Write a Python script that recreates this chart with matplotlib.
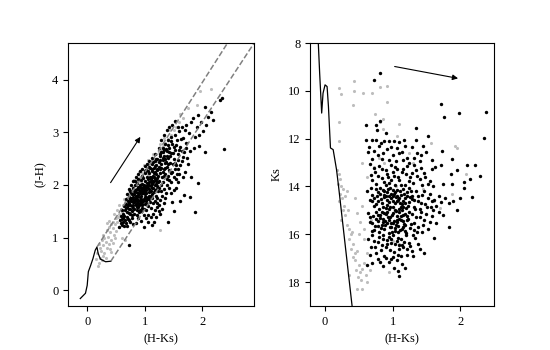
import numpy as np
import matplotlib
matplotlib.use('Agg')
import matplotlib.pyplot as plt

plt.rcParams['font.family'] = ['Liberation Serif', 'DejaVu Serif']

# ---- colour-colour diagram: (H-Ks), (J-H) ----
cc_black = [
    # dense core
    (0.66,1.52),(0.68,1.63),(0.70,1.58),(0.71,1.70),(0.72,1.47),(0.73,1.78),(0.74,1.62),(0.75,1.55),(0.76,1.69),(0.77,1.82),
    (0.78,1.50),(0.79,1.74),(0.80,1.61),(0.81,1.88),(0.82,1.55),(0.83,1.70),(0.84,1.79),(0.85,1.64),(0.86,1.93),(0.87,1.52),
    (0.88,1.84),(0.89,1.72),(0.90,1.61),(0.91,1.97),(0.92,1.78),(0.93,1.88),(0.94,1.66),(0.95,2.02),(0.96,1.56),(0.97,1.84),
    (0.98,1.93),(0.99,1.73),(1.00,2.08),(1.01,1.63),(1.02,1.98),(1.03,1.85),(1.04,2.15),(1.05,1.76),(1.06,2.04),(1.07,1.92),
    (1.08,2.22),(1.09,1.68),(1.10,2.11),(1.11,1.98),(1.12,2.27),(1.13,1.83),(1.14,2.18),(1.15,2.05),(1.16,2.33),(1.17,1.91),
    (1.18,2.24),(1.19,2.12),(1.20,2.38),(1.21,1.99),(1.22,2.30),(1.23,2.17),(1.24,2.44),(1.25,2.08),
    (0.67,1.74),(0.70,1.82),(0.73,1.55),(0.75,1.88),(0.77,1.60),(0.79,1.95),(0.81,1.67),(0.83,2.00),(0.85,1.76),(0.87,2.04),
    (0.89,1.58),(0.91,1.84),(0.93,2.10),(0.95,1.70),(0.97,2.14),(0.99,1.88),(1.01,2.22),(1.03,1.70),(1.05,2.26),(1.07,2.00),
    (1.09,2.32),(1.11,1.80),(1.13,2.40),(1.15,1.95),(1.17,2.46),(1.19,2.02),(1.21,2.50),(1.23,1.88),(1.25,2.34),
    (0.62,1.45),(0.64,1.60),(0.69,1.40),(0.74,1.44),(0.78,1.38),(0.82,1.45),(0.86,1.42),(0.90,1.48),(0.94,1.50),(0.98,1.55),
    (1.02,1.52),(1.06,1.60),(1.10,1.56),(1.14,1.66),(1.18,1.70),(1.22,1.75),(0.60,1.36),(0.63,1.30),(0.58,1.27),(0.66,1.33),
    (0.72,1.92),(0.76,2.00),(0.80,2.08),(0.84,2.15),(0.88,2.20),(0.92,2.26),(0.96,2.30),(1.00,2.36),(1.04,2.40),(1.08,2.46),
    (0.82,1.82),(0.86,1.70),(0.90,1.90),(0.94,1.80),(0.98,2.00),(1.02,1.90),(1.06,2.12),(1.10,1.88),(1.14,2.08),(1.18,2.00),
    (0.84,1.62),(0.88,1.96),(0.92,1.70),(0.96,1.92),(1.00,1.82),(1.04,2.04),(1.08,1.80),(1.12,2.16),(1.16,1.86),(1.20,2.20),
    (0.76,1.75),(0.80,1.78),(0.96,1.64),(1.00,1.95),(1.04,1.64),(1.08,2.06),(0.88,1.66),(0.92,2.00),(1.12,1.94),(1.16,2.22),
    (0.71,1.61),(0.74,1.73),(0.79,1.57),(0.83,1.91),(0.87,1.77),(0.91,1.53),(0.93,1.95),(0.97,1.69),(1.01,1.86),(1.03,2.29),
    (1.07,1.73),(1.11,2.07),(1.13,2.31),(1.17,2.12),(1.21,2.28),(1.23,2.05),(1.27,2.47),(1.29,2.33),(1.31,2.62),(1.35,2.41),
    (0.69,1.49),(0.72,1.66),(0.76,1.84),(0.81,1.72),(0.85,1.86),(0.89,1.81),(0.93,1.74),(0.97,1.97),(1.02,1.77),(1.06,1.95),
    (1.09,2.16),(1.13,2.02),(1.18,2.36),(1.22,2.14),(1.26,2.31),(1.32,2.52),(1.37,2.69),(1.41,2.77),(1.46,2.83),(1.51,2.72),
    (0.64,1.41),(0.68,1.56),(0.77,1.43),(0.86,1.59),(0.95,1.61),(1.04,1.73),(1.13,1.76),(1.22,1.92),(1.31,2.05),(1.40,2.18),
    (0.83,2.07),(0.89,2.11),(0.95,2.18),(1.01,2.27),(1.07,2.35),(1.14,2.43),(1.19,2.49),(1.27,2.58),(1.34,2.66),(1.42,2.62),
    (1.54,2.77),(1.59,2.66),(1.63,2.88),(1.67,2.53),(1.71,2.70),(1.57,2.48),(1.49,2.40),(1.44,2.55),(1.36,2.33),(1.53,2.30),
    (0.59,1.41),(0.61,1.53),(0.73,1.33),(0.88,1.37),(1.05,1.43),(1.24,1.51),(1.33,1.66),(1.43,1.95),(1.58,2.05),(1.66,2.15),
    (1.00,1.78),(0.96,1.85),(1.04,1.98),(0.92,1.63),(1.08,1.87),(1.12,2.03),(0.84,1.74),(0.80,1.67),(1.16,2.15),(1.20,2.08),
    (1.22,1.58),(1.26,1.72),(1.30,1.80),(1.34,1.92),(1.38,2.12),(1.42,2.28),(1.46,2.05),(1.50,1.90),(1.54,2.12),(1.58,2.30),
    (1.29,2.00),(1.33,2.18),(1.37,1.85),(1.41,2.40),(1.45,2.22),(1.49,2.60),(1.52,2.42),(1.56,2.20),(1.61,2.38),(1.65,2.65),
    (0.56,1.20),(0.60,1.24),(0.64,1.22),(0.68,1.28),(0.71,1.35),(0.75,1.30),(0.79,1.25),(0.62,1.38),(0.57,1.33),(0.70,1.22),
    (1.17,1.52),(1.21,1.65),(1.27,1.45),(1.11,1.40),(0.99,1.42),(1.19,1.80),(1.25,1.95),(1.31,2.25),(1.35,2.50),(1.39,2.55),
    # upper part of the cloud
    (1.26,2.56),(1.27,2.22),(1.28,2.40),(1.29,2.62),(1.30,2.15),(1.31,2.48),(1.32,2.70),(1.33,2.30),(1.34,2.56),(1.35,2.78),
    (1.36,2.20),(1.37,2.44),(1.38,2.64),(1.39,2.35),(1.40,2.85),(1.41,2.52),(1.42,2.10),(1.43,2.70),(1.44,2.42),(1.45,2.92),
    (1.46,2.60),(1.47,2.25),(1.48,2.78),(1.50,2.50),(1.52,2.95),(1.53,2.66),(1.55,2.38),(1.56,2.85),(1.58,2.58),(1.60,3.02),
    (1.62,2.72),(1.64,2.45),(1.66,2.90),(1.68,2.62),(1.70,3.05),(1.72,2.80),(1.74,2.52),
    (1.28,2.85),(1.33,2.95),(1.38,3.05),(1.43,3.10),(1.48,3.15),(1.53,3.22),(1.58,3.10),(1.25,2.70),(1.18,2.58),(1.12,2.52),
    # below the band
    (0.72,0.85),(0.98,1.20),(1.12,1.23),(1.06,1.29),(1.40,1.30),(1.51,1.51),(1.68,1.81),(1.79,1.77),(1.81,2.16),(1.92,2.04),
    (1.88,1.48),(1.20,1.40),(1.30,1.55),(1.35,1.75),(1.45,1.85),(1.55,1.95),(1.60,2.20),(1.25,1.62),(1.15,1.45),(1.50,2.15),
    (1.70,2.25),(1.75,2.40),(0.93,1.32),(1.02,1.38),(1.28,1.88),(1.38,2.00),(1.48,1.68),(1.62,1.70),(1.16,1.30),(0.85,1.28),
    # red tail
    (2.37,2.68),(2.04,2.62),(2.35,3.66),(2.30,3.62),(2.15,3.38),(2.19,3.24),(2.04,3.49),(1.92,3.33),(2.10,3.30),(2.02,3.03),
    (1.95,2.96),(1.77,2.99),(1.88,2.91),(2.06,3.15),(1.80,3.20),(1.85,2.70),(1.90,3.10),(1.78,2.65),(1.84,3.28),(1.98,3.20),
    (1.72,3.15),(1.65,3.10),(1.95,2.75),
]
cc_gray = [
    (0.18,0.45),(0.20,0.52),(0.22,0.62),(0.17,0.70),(0.24,0.75),(0.26,0.58),(0.28,0.85),(0.30,0.70),(0.32,0.92),(0.25,0.95),
    (0.34,0.80),(0.36,1.02),(0.38,0.88),(0.40,1.10),(0.42,0.96),(0.44,1.18),(0.46,1.04),(0.48,1.25),(0.50,1.12),(0.35,1.15),
    (0.30,1.00),(0.28,0.65),(0.40,0.78),(0.45,0.90),(0.52,1.30),(0.55,1.20),(0.22,0.80),(0.33,0.62),(0.20,0.88),(0.38,1.20),
    (0.42,0.72),(0.27,1.05),(0.48,1.00),(0.15,0.60),(0.60,1.00),(0.66,0.95),
    (0.50,1.38),(0.55,1.45),(0.58,1.55),(0.62,1.62),(0.66,1.68),(0.70,1.75),(0.73,1.85),(0.76,1.90),(0.80,1.96),(0.84,2.02),
    (0.88,2.08),(0.92,2.15),(0.96,2.22),(1.00,2.28),(1.04,2.32),(1.08,2.40),(1.12,2.45),(1.16,2.50),(1.20,2.58),(1.24,2.62),
    (1.28,2.66),(1.32,2.75),(1.36,2.80),(1.40,2.88),(1.45,2.95),(1.50,3.05),(1.55,3.10),(1.60,3.20),(1.66,3.28),(1.75,3.46),
    (1.90,3.53),(1.96,3.78),(2.15,3.83),(0.60,1.48),(0.68,1.60),(0.78,1.76),(1.05,2.20),(1.22,2.45),
    (1.00,1.70),(1.20,1.92),(1.27,1.14),(0.94,2.05),
    (0.45,1.30),(0.52,1.52),(0.56,1.62),(0.64,1.74),(0.72,1.90),(0.82,2.10),(0.90,2.25),(0.98,2.38),(1.06,2.48),(1.14,2.58),
    (1.26,2.78),(1.34,2.90),(1.44,3.05),(1.52,3.20),(1.62,3.35),(0.42,1.25),(0.38,1.32),(0.54,1.40),(0.47,1.45),(0.35,1.28),
]
# intrinsic colours (dwarfs + giants)
intr_hk = [-0.12, -0.03, 0.00, 0.02, 0.06, 0.10, 0.14, 0.17, 0.19, 0.23, 0.32, 0.41]
intr_jh = [-0.16, -0.06, 0.09, 0.35, 0.47, 0.60, 0.76, 0.82, 0.70, 0.59, 0.54, 0.55]
# reddening band edges
band_hk = [[0.17, 2.45], [0.41, 2.90]]
band_jh = [[0.82, 4.72], [0.55, 4.70]]
# reddening vector
cc_arrow = [(0.38, 2.00), (0.95, 2.96)]

# ---- colour-magnitude diagram: (H-Ks), Ks ----
cm_black = [
    (0.82,9.27),(0.73,9.54),(1.72,10.53),(1.99,10.93),(1.76,11.08),(2.39,10.89),(0.60,11.43),(0.76,11.42),(0.81,11.25),
    (0.77,11.65),(0.90,11.76),(1.34,11.54),(2.35,11.97),
    (0.61,12.04),(0.69,12.06),(0.75,12.06),(0.87,12.10),(0.94,12.08),(1.02,12.12),(1.10,12.15),(1.17,12.06),(1.34,12.06),(1.53,11.90),
    (0.65,12.35),(0.72,12.50),(0.80,12.30),(0.86,12.62),(0.92,12.45),(1.00,12.70),(1.06,12.40),(1.14,12.55),(1.21,12.80),
    (1.28,12.35),(1.36,12.62),(1.45,12.30),(1.50,12.55),(1.73,12.50),(1.88,12.84),
    (0.66,13.05),(0.74,13.40),(0.80,13.15),(0.85,13.65),(0.90,13.30),(0.95,13.85),(0.98,13.10),(1.02,13.55),(1.06,13.25),
    (1.10,13.75),(1.14,13.40),(1.18,13.95),(1.22,13.15),(1.26,13.60),(1.30,13.85),(1.34,13.30),(1.40,13.70),(1.46,13.45),
    (1.52,13.90),(1.58,13.25),(1.63,13.20),(1.71,13.10),(1.86,13.50),(1.88,13.90),(1.75,13.90),(2.05,13.80),(2.05,14.05),
    (2.10,13.10),(2.22,13.10),(2.15,13.68),(2.30,13.55),(0.70,13.75),(0.93,13.60),(1.04,13.95),(1.20,13.50),(1.44,13.95),
    (0.62,14.20),(0.66,14.55),(0.70,14.35),(0.72,14.80),(0.75,14.10),(0.78,14.60),(0.80,14.95),(0.82,14.30),(0.84,14.70),
    (0.86,14.15),(0.88,14.45),(0.90,14.90),(0.92,14.25),(0.94,14.65),(0.96,14.05),(0.98,14.50),(1.00,14.85),(1.02,14.30),
    (1.04,14.70),(1.06,14.15),(1.08,14.55),(1.10,14.95),(1.12,14.35),(1.14,14.75),(1.16,14.10),(1.18,14.50),(1.20,14.90),
    (1.22,14.25),(1.25,14.65),(1.28,14.40),(1.31,14.85),(1.34,14.20),(1.37,14.60),(1.40,14.95),(1.44,14.35),(1.48,14.75),
    (1.52,14.50),(1.57,14.85),(1.62,14.55),(1.69,14.40),(1.83,14.70),(1.96,15.00),(2.17,14.45),(0.68,14.05),(0.86,14.85),
    (0.95,14.40),(1.05,14.45),(1.15,14.60),(1.24,14.05),(1.32,14.55),(0.77,14.40),(0.91,14.55),(1.01,14.15),(1.11,14.70),(1.21,14.40),
    (0.63,15.10),(0.66,15.50),(0.69,15.85),(0.71,15.25),(0.74,15.65),(0.76,15.05),(0.78,15.45),(0.80,15.90),(0.82,15.20),
    (0.84,15.60),(0.86,15.35),(0.88,15.80),(0.90,15.15),(0.92,15.55),(0.94,15.95),(0.96,15.30),(0.98,15.70),(1.00,15.10),
    (1.02,15.45),(1.04,15.85),(1.06,15.25),(1.08,15.65),(1.10,15.05),(1.12,15.40),(1.14,15.80),(1.16,15.20),(1.18,15.60),
    (1.20,15.95),(1.23,15.35),(1.26,15.75),(1.29,15.15),(1.32,15.55),(1.36,15.90),(1.40,15.30),(1.45,15.60),(1.50,15.15),
    (1.55,15.50),(1.84,15.70),(1.34,15.30),(0.85,15.05),(0.95,15.40),(1.05,15.60),(1.15,15.45),(0.79,15.65),(0.89,15.45),
    (0.99,15.90),(1.09,15.35),(1.19,15.15),
    (0.64,16.20),(0.68,16.55),(0.72,16.30),(0.76,16.80),(0.80,16.10),(0.84,16.45),(0.88,16.90),(0.92,16.25),(0.96,16.65),
    (1.00,16.05),(1.04,16.40),(1.08,16.85),(1.12,16.20),(1.16,16.55),(1.20,16.05),(1.24,16.35),(1.28,16.70),(1.33,16.15),
    (1.38,16.40),(1.46,16.80),(1.61,16.15),(1.00,16.95),(0.90,16.55),(1.10,16.60),
    (0.70,17.20),(0.78,17.05),(0.86,17.35),(0.94,17.15),(1.02,17.40),(1.10,17.76),(1.19,17.40),(1.06,17.10),(1.14,17.25),
    (0.90,17.00),(1.08,17.55),
    (0.79,14.23),(0.83,14.52),(0.87,14.36),(0.91,14.78),(0.93,14.12),(0.97,14.33),(1.01,14.62),(1.03,14.97),(1.07,14.40),(1.11,14.18),
    (1.13,14.88),(1.17,14.32),(1.19,14.68),(1.23,14.83),(1.27,14.18),(1.29,14.52),(1.33,14.93),(0.73,14.47),(0.76,14.72),(0.69,14.63),
    (0.81,15.33),(0.83,15.76),(0.87,15.12),(0.89,15.62),(0.93,15.27),(0.97,15.52),(0.99,15.18),(1.03,15.72),(1.05,15.03),(1.07,15.47),
    (1.11,15.82),(1.13,15.22),(1.17,15.57),(1.21,15.42),(1.24,15.07),(1.27,15.58),(1.31,15.83),(0.75,15.38),(0.72,15.82),(0.67,15.28),
    (0.79,16.33),(0.83,16.67),(0.86,16.21),(0.91,16.43),(0.95,16.12),(0.98,16.38),(1.02,16.73),(1.06,16.28),(1.09,16.47),(1.13,16.92),
    (1.17,16.31),(1.21,16.62),(1.26,16.48),(0.74,16.52),(0.70,16.02),(1.30,16.05),(1.41,16.60),(0.66,16.85),(0.82,17.15),(0.98,17.05),
    (0.84,13.25),(0.88,13.82),(0.92,13.48),(0.97,13.72),(1.00,13.38),(1.04,13.18),(1.08,13.62),(1.12,13.92),(1.16,13.28),(1.24,13.78),
    (1.28,13.42),(1.36,13.55),(1.42,13.22),(1.48,13.62),(1.55,13.78),(1.60,13.98),(0.78,13.58),(0.72,13.22),(0.68,13.52),(1.32,13.12),
    (1.38,14.38),(1.42,14.68),(1.47,14.18),(1.51,14.88),(1.55,14.30),(1.59,14.62),(1.65,14.82),(1.72,14.65),(1.78,14.50),(1.90,14.60),
    (1.42,15.05),(1.47,15.42),(1.52,15.78),(1.58,15.25),(1.64,15.55),(1.38,15.70),(1.43,15.92),(1.75,15.20),(1.68,15.05),(1.60,15.00),
    (0.85,12.85),(0.95,12.90),(1.05,12.95),(1.15,12.88),(1.25,13.00),(1.40,12.95),(0.78,12.70),(1.58,12.90),(1.95,13.30),(2.00,14.50),
    (0.96,14.88),(1.00,14.42),(1.04,14.22),(0.90,14.42),(1.10,14.48),(1.14,15.00),(1.00,15.55),(0.92,15.05),(1.08,15.90),(1.18,15.88),
    (0.63,12.55),(0.70,12.85),(0.83,12.20),(0.97,12.35),(1.09,12.60),(1.19,12.30),(1.31,12.80),(1.42,12.70),(0.90,13.95),(0.76,13.90),
    (0.82,14.05),(0.88,14.20),(0.94,14.95),(1.06,14.60),(1.16,14.85),(1.26,14.45),(0.86,15.50),(0.96,15.70),(1.06,15.40),(1.16,15.70),
    (1.22,15.25),(0.78,15.20),(0.70,15.55),(0.98,16.20),(1.08,16.15),(1.14,16.45),(0.86,16.05),(1.22,16.85),(0.62,17.30),(1.30,16.90),
]
cm_gray = [
    (0.21,9.90),(0.24,10.15),(0.43,9.58),(0.43,10.00),(0.56,10.07),(0.70,10.10),(0.82,9.82),(0.91,9.79),(0.91,10.47),
    (0.42,10.60),(0.74,10.97),(0.86,11.17),(0.81,11.30),(1.10,11.38),(0.20,11.32),(0.21,12.10),(0.86,11.60),(1.06,11.90),
    (1.95,12.40),(1.57,12.20),
    (0.18,13.30),(0.20,13.50),(0.22,13.70),(0.19,13.90),(0.24,14.00),(0.27,14.10),(0.22,14.30),(0.25,14.50),(0.29,14.40),
    (0.21,14.60),(0.28,14.80),(0.32,14.20),(0.26,15.00),(0.30,15.20),(0.34,15.00),(0.23,15.40),
    (0.35,15.80),(0.38,16.00),(0.32,15.60),(0.40,15.90),(0.36,16.20),(0.42,16.40),(0.39,16.60),(0.45,16.80),(0.41,16.95),
    (0.48,16.70),(0.44,17.10),(0.50,17.30),(0.46,17.50),(0.52,17.60),(0.55,17.45),(0.49,17.80),(0.58,17.20),(0.53,17.90),
    (0.60,17.70),(0.47,18.30),(0.55,18.30),(0.62,18.00),(0.35,17.70),
    (0.45,14.50),(0.48,15.10),(0.52,15.50),(0.55,14.80),(0.58,16.20),(0.62,16.80),(0.66,17.50),(0.58,15.80),(0.50,16.00),
    (0.72,13.20),(0.80,12.80),(0.88,13.00),(1.00,16.30),(1.10,16.40),(1.30,13.00),(1.45,14.10),(1.70,14.90),(1.88,14.30),
    (2.08,13.50),(1.92,12.30),(1.25,12.60),(0.95,17.60),(0.68,15.40),(0.55,13.00),(0.62,13.60),(1.62,14.60),(1.05,14.00),
]
# isochrone
iso_hk = [-0.10, -0.08, -0.05, -0.03, 0.00, 0.03, 0.05, 0.08, 0.12, 0.17, 0.20, 0.28, 0.36, 0.40]
iso_k = [8.0, 9.26, 10.93, 10.10, 9.75, 9.82, 10.65, 12.39, 12.46, 13.30, 14.0, 16.0, 18.0, 19.0]
cm_arrow = [(0.99, 8.96), (2.01, 9.50)]

gray = '#bdbdbd'
fs = 9

fig = plt.figure(figsize=(5.5, 3.5), dpi=100)
ax1 = fig.add_axes([0.124, 0.126, 0.338, 0.751])
ax2 = fig.add_axes([0.564, 0.126, 0.334, 0.751])

g = np.array(cc_gray)
b = np.array(cc_black)
ax1.scatter(g[:, 0], g[:, 1], s=5, c=gray, lw=0)
ax1.scatter(b[:, 0], b[:, 1], s=6, c='black', lw=0)
ax1.plot(intr_hk, intr_jh, color='black', lw=0.9)
for bx, by in zip(band_hk, band_jh):
    ax1.plot(bx, by, color='gray', ls='--', lw=1.1)
ax1.annotate('', xy=cc_arrow[1], xytext=cc_arrow[0],
             arrowprops=dict(arrowstyle='-|>', color='black', lw=0.8, mutation_scale=8))
ax1.set_xlim(-0.33, 2.9)
ax1.set_ylim(-0.3, 4.7)
ax1.set_xticks([0, 1, 2])
ax1.set_yticks([0, 1, 2, 3, 4])
ax1.set_xlabel('(H-Ks)', fontsize=fs)
ax1.set_ylabel('(J-H)', fontsize=fs)

g = np.array(cm_gray)
b = np.array(cm_black)
ax2.scatter(g[:, 0], g[:, 1], s=5, c=gray, lw=0)
ax2.scatter(b[:, 0], b[:, 1], s=6, c='black', lw=0)
ax2.plot(iso_hk, iso_k, color='black', lw=0.9)
ax2.annotate('', xy=cm_arrow[1], xytext=cm_arrow[0],
             arrowprops=dict(arrowstyle='-|>', color='black', lw=0.8, mutation_scale=8))
ax2.set_xlim(-0.22, 2.5)
ax2.set_ylim(19, 8)
ax2.set_xticks([0, 1, 2])
ax2.set_yticks([8, 10, 12, 14, 16, 18])
ax2.set_xlabel('(H-Ks)', fontsize=fs)
ax2.set_ylabel('Ks', fontsize=fs)

for ax in (ax1, ax2):
    ax.tick_params(labelsize=fs, direction='out', length=3.5, width=0.8)
    for sp in ax.spines.values():
        sp.set_linewidth(0.8)

fig.savefig('out.png', dpi=100)
